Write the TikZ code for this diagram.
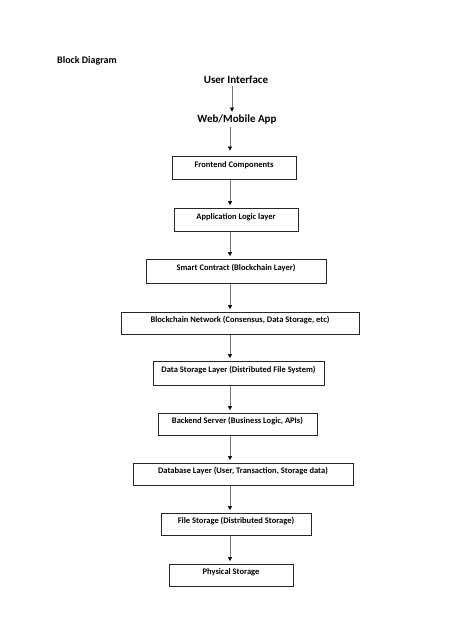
\documentclass[tikz,border=0pt]{standalone}
\usepackage{fontspec}
\setmainfont{Carlito}
\usetikzlibrary{arrows.meta}
\tikzset{
  blk/.style={draw=black!85, line width=0.9pt, inner sep=0pt, font=\bfseries\fontsize{8.5}{10}\selectfont, text height=5.5pt, text depth=6pt},
  ttl/.style={inner sep=1pt, font=\bfseries\fontsize{11}{13}\selectfont},
  arr/.style={draw=black!55, line width=0.55pt, -{Triangle[length=4pt,width=4pt,black]}, shorten >=2.5pt, shorten <=1pt}
}
\begin{document}
\begin{tikzpicture}[x=1pt,y=-1pt]
\useasboundingbox (0,0) rectangle (474,632);
\node[anchor=west, inner sep=0pt, font=\bfseries\fontsize{10}{12}\selectfont] (title) at (57,61) {Block Diagram};
\node[ttl] (ui) at (236,80) {User Interface};
\node[ttl] (web) at (237,120) {Web/Mobile App};
\node[blk, minimum width=124pt, minimum height=23pt] (fe) at (234,167.5) {Frontend Components};
\node[blk, minimum width=124pt, minimum height=23pt] (al) at (236,219.5) {Application Logic layer};
\node[blk, minimum width=180pt, minimum height=24pt] (sc) at (236,271) {Smart Contract (Blockchain Layer)};
\node[blk, minimum width=238pt, minimum height=22pt] (bn) at (240,323) {Blockchain Network (Consensus, Data Storage, etc)};
\node[blk, minimum width=171pt, minimum height=24pt] (ds) at (238.5,373) {Data Storage Layer (Distributed File System)};
\node[blk, minimum width=159pt, minimum height=22pt] (bs) at (237.5,424) {Backend Server (Business Logic, APIs)};
\node[blk, minimum width=220pt, minimum height=22pt] (db) at (243,474) {Database Layer (User, Transaction, Storage data)};
\node[blk, minimum width=150pt, minimum height=22pt] (fs) at (236,524) {File Storage (Distributed Storage)};
\node[blk, minimum width=124pt, minimum height=22pt] (ps) at (231,575) {Physical Storage};
\coordinate (col) at (230,0);
\coordinate (colu) at (232,0);
\draw[arr] (ui.south -| colu) -- (web.north -| colu);
\draw[arr, shorten >=5pt] (web.south -| col) -- (fe.north -| col);
\draw[arr] (fe.south -| col) -- (al.north -| col);
\draw[arr] (al.south -| col) -- (sc.north -| col);
\draw[arr] (sc.south -| col) -- (bn.north -| col);
\draw[arr] (bn.south -| col) -- (ds.north -| col);
\draw[arr] (ds.south -| col) -- (bs.north -| col);
\draw[arr] (bs.south -| col) -- (db.north -| col);
\draw[arr] (db.south -| col) -- (fs.north -| col);
\draw[arr] (fs.south -| col) -- (ps.north -| col);
\end{tikzpicture}
\end{document}
